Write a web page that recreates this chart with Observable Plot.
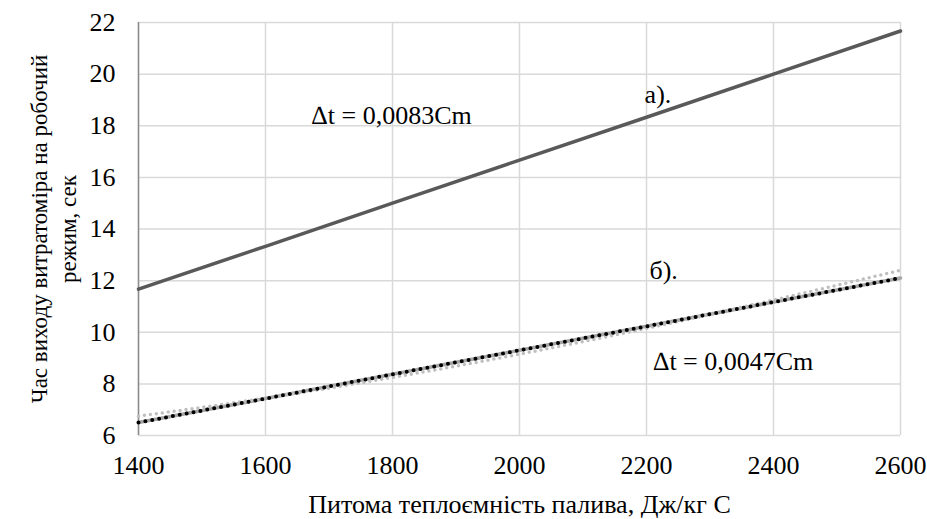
<!DOCTYPE html>
<html>
<head>
<meta charset="utf-8">
<script src="https://cdn.jsdelivr.net/npm/d3@7"></script>
<script src="https://cdn.jsdelivr.net/npm/@observablehq/plot@0.6"></script>
<style>
body { margin: 0; background: #fff; }
</style>
</head>
<body>
<div id="chart"></div>
<script>
const cm = [1400, 1600, 1800, 2000, 2200, 2400, 2600];
const seriesA = [11.67, 13.33, 15.0, 16.67, 18.33, 20.0, 21.67];
const seriesB = [6.5, 7.43, 8.37, 9.3, 10.23, 11.17, 12.1];
const seriesBTrend = [6.75, 7.45, 8.25, 9.15, 10.15, 11.25, 12.4];
const xTicks = [1400, 1600, 1800, 2000, 2200, 2400, 2600];
const yTicks = [6, 8, 10, 12, 14, 16, 18, 20, 22];
const equationLabels = [
  {x: 1673, y: 18.4, text: "∆t = 0,0083Cm"},
  {x: 2211, y: 8.87, text: "∆t = 0,0047Cm"}
];
const seriesLabels = [
  {x: 2218, y: 19.2, text: "а)."},
  {x: 2227, y: 12.4, text: "б)."}
];
const xLabel = "Питома теплоємність палива, Дж/кг С";
const yLabel = "Час виходу витратоміра на робочий\nрежим, сек";

const dA = cm.map((x, i) => ({x, y: seriesA[i]}));
const dB = cm.map((x, i) => ({x, y: seriesB[i]}));
const dBT = cm.map((x, i) => ({x, y: seriesBTrend[i]}));

const font = "'Liberation Serif', 'Times New Roman', serif";
const fs = 26;

const chart = Plot.plot({
  width: 927,
  height: 519,
  marginLeft: 138,
  marginRight: 27,
  marginTop: 22,
  marginBottom: 84,
  style: {fontFamily: font, fontSize: fs + "px", color: "#000", background: "#fff"},
  x: {domain: [1400, 2600], ticks: xTicks, tickFormat: d => String(d), label: null},
  y: {domain: [6, 22], ticks: yTicks, tickFormat: d => String(d), label: null},
  marks: [
    Plot.gridX(xTicks, {stroke: "#d9d9d9", strokeOpacity: 1, strokeWidth: 1.5}),
    Plot.gridY(yTicks, {stroke: "#d9d9d9", strokeOpacity: 1, strokeWidth: 1.5}),
    Plot.ruleX([1400], {stroke: "#8c8c8c", strokeWidth: 1.5}),
    Plot.axisX({ticks: xTicks, tickSize: 0, tickPadding: 20, tickFormat: d => String(d), fontSize: fs, label: null}),
    Plot.axisY({ticks: yTicks, tickSize: 0, tickPadding: 23, tickFormat: d => String(d), fontSize: fs, label: null}),
    Plot.line(dA, {x: "x", y: "y", stroke: "#595959", strokeWidth: 3.5}),
    Plot.line(dB, {x: "x", y: "y", stroke: "#a6a6a6", strokeWidth: 3.5}),
    Plot.line(dBT, {x: "x", y: "y", stroke: "#bfbfbf", strokeWidth: 3.5, strokeDasharray: "0,6", strokeLinecap: "round", curve: "monotone-x"}),
    Plot.line(dB, {x: "x", y: "y", stroke: "#000", strokeWidth: 4, strokeDasharray: "0,7", strokeLinecap: "round"}),
    Plot.text(equationLabels, {x: "x", y: "y", text: "text", textAnchor: "start", fontSize: fs, fill: "#000"}),
    Plot.text(seriesLabels, {x: "x", y: "y", text: "text", textAnchor: "middle", fontSize: fs, fill: "#000"}),
    Plot.text([xLabel], {frameAnchor: "bottom", dy: 69, lineAnchor: "middle", textAnchor: "middle", fontSize: fs, fill: "#000"}),
    Plot.text([yLabel], {frameAnchor: "left", dx: -86, rotate: -90, textAnchor: "middle", lineAnchor: "middle", fontSize: 23, lineHeight: 1.22, fill: "#000"})
  ]
});
document.getElementById("chart").appendChild(chart);
</script>
</body>
</html>
